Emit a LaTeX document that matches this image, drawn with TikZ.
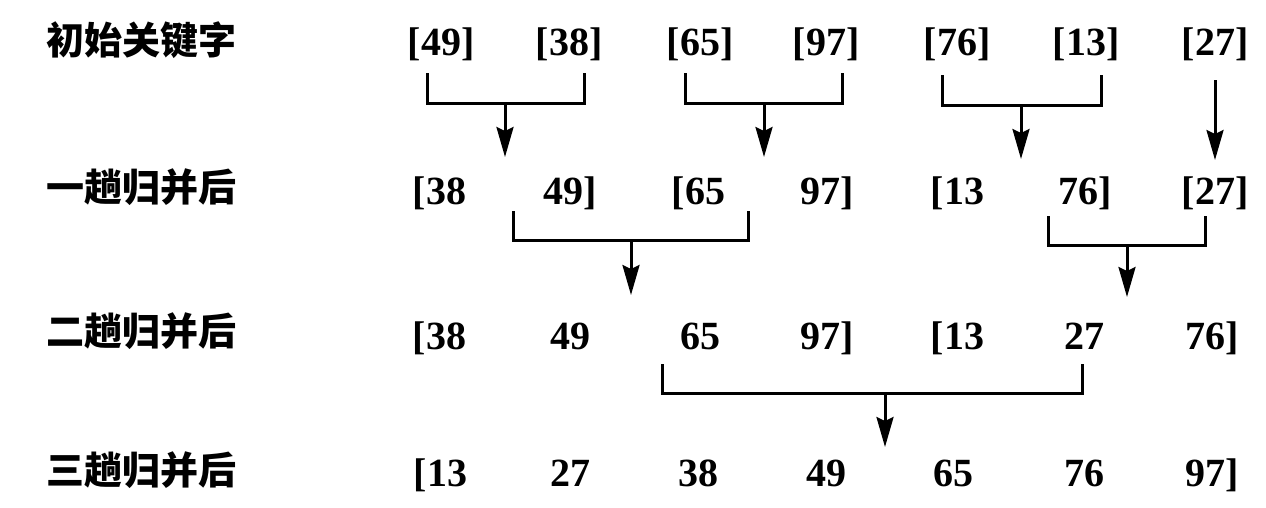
\documentclass[tikz,border=0pt]{standalone}
\usepackage{fontspec}
\setmainfont{Liberation Serif}
\newfontfamily\cjk{Noto Sans CJK SC}
\usetikzlibrary{arrows.meta}
\tikzset{
  lab/.style={anchor=base west, inner sep=0pt, font=\cjk\bfseries\fontsize{38}{38}\selectfont},
  num/.style={anchor=base, inner sep=0pt, font=\bfseries\fontsize{40}{40}\selectfont},
  link/.style={line width=3pt, line join=miter, line cap=rect},
  arr/.style={line width=3pt, -{Stealth[length=30pt,width=17pt,inset=4pt]}}
}
\begin{document}
\begin{tikzpicture}[x=1pt,y=-1pt]
\useasboundingbox (0,0) rectangle (1266,507);
% labels
\node[lab] (l1) at (46,54) {初始关键字};
\node[lab] (l2) at (46,201) {一趟归并后};
\node[lab] (l3) at (46,345) {二趟归并后};
\node[lab] (l4) at (46,484) {三趟归并后};
% row 1
\node[num] (a1) at (441,55) {[49]};
\node[num] (a2) at (569,55) {[38]};
\node[num] (a3) at (700,55) {[65]};
\node[num] (a4) at (826,55) {[97]};
\node[num] (a5) at (957,55) {[76]};
\node[num] (a6) at (1086,55) {[13]};
\node[num] (a7) at (1215,55) {[27]};
% row 2
\node[num] (b1) at (446,204) {\llap{[}38};
\node[num] (b2) at (563,204) {49\rlap{]}};
\node[num] (b3) at (705,204) {\llap{[}65};
\node[num] (b4) at (820,204) {97\rlap{]}};
\node[num] (b5) at (964,204) {\llap{[}13};
\node[num] (b6) at (1078,204) {76\rlap{]}};
\node[num] (b7) at (1215,204) {[27]};
% row 3
\node[num] (c1) at (446,349) {\llap{[}38};
\node[num] (c2) at (570,349) {49};
\node[num] (c3) at (700,349) {65};
\node[num] (c4) at (820,349) {97\rlap{]}};
\node[num] (c5) at (964,349) {\llap{[}13};
\node[num] (c6) at (1084,349) {27};
\node[num] (c7) at (1205,349) {76\rlap{]}};
% row 4
\node[num] (d1) at (447,486) {\llap{[}13};
\node[num] (d2) at (570,486) {27};
\node[num] (d3) at (698,486) {38};
\node[num] (d4) at (826,486) {49};
\node[num] (d5) at (953,486) {65};
\node[num] (d6) at (1084,486) {76};
\node[num] (d7) at (1205,486) {97\rlap{]}};
% coordinates for brackets
\coordinate (p1a) at (427,74);  \coordinate (p1b) at (584,74);
\coordinate (p1m) at (505,103); \coordinate (p1t) at (505,157);
\coordinate (p2a) at (685,74);  \coordinate (p2b) at (842,74);
\coordinate (p2m) at (764,103); \coordinate (p2t) at (764,157);
\coordinate (p3a) at (942,76);  \coordinate (p3b) at (1101,76);
\coordinate (p3m) at (1021,105); \coordinate (p3t) at (1021,159);
\coordinate (p4a) at (1215,80); \coordinate (p4t) at (1215,160);
\coordinate (q1a) at (513,212); \coordinate (q1b) at (748,212);
\coordinate (q1m) at (631,240); \coordinate (q1t) at (631,295);
\coordinate (q2a) at (1048,217); \coordinate (q2b) at (1205,217);
\coordinate (q2m) at (1127,245); \coordinate (q2t) at (1127,297);
\coordinate (s1a) at (662,365); \coordinate (s1b) at (1082,365);
\coordinate (s1m) at (885,393); \coordinate (s1t) at (885,447);
% connectors
\draw[link] (p1a) |- (p1m) -| (p1b);
\draw[arr] (p1m) -- (p1t);
\draw[link] (p2a) |- (p2m) -| (p2b);
\draw[arr] (p2m) -- (p2t);
\draw[link] (p3a) |- (p3m) -| (p3b);
\draw[arr] (p3m) -- (p3t);
\draw[arr] (p4a) -- (p4t);
\draw[link] (q1a) |- (q1m) -| (q1b);
\draw[arr] (q1m) -- (q1t);
\draw[link] (q2a) |- (q2m) -| (q2b);
\draw[arr] (q2m) -- (q2t);
\draw[link] (s1a) |- (s1m) -| (s1b);
\draw[arr] (s1m) -- (s1t);
\end{tikzpicture}
\end{document}
